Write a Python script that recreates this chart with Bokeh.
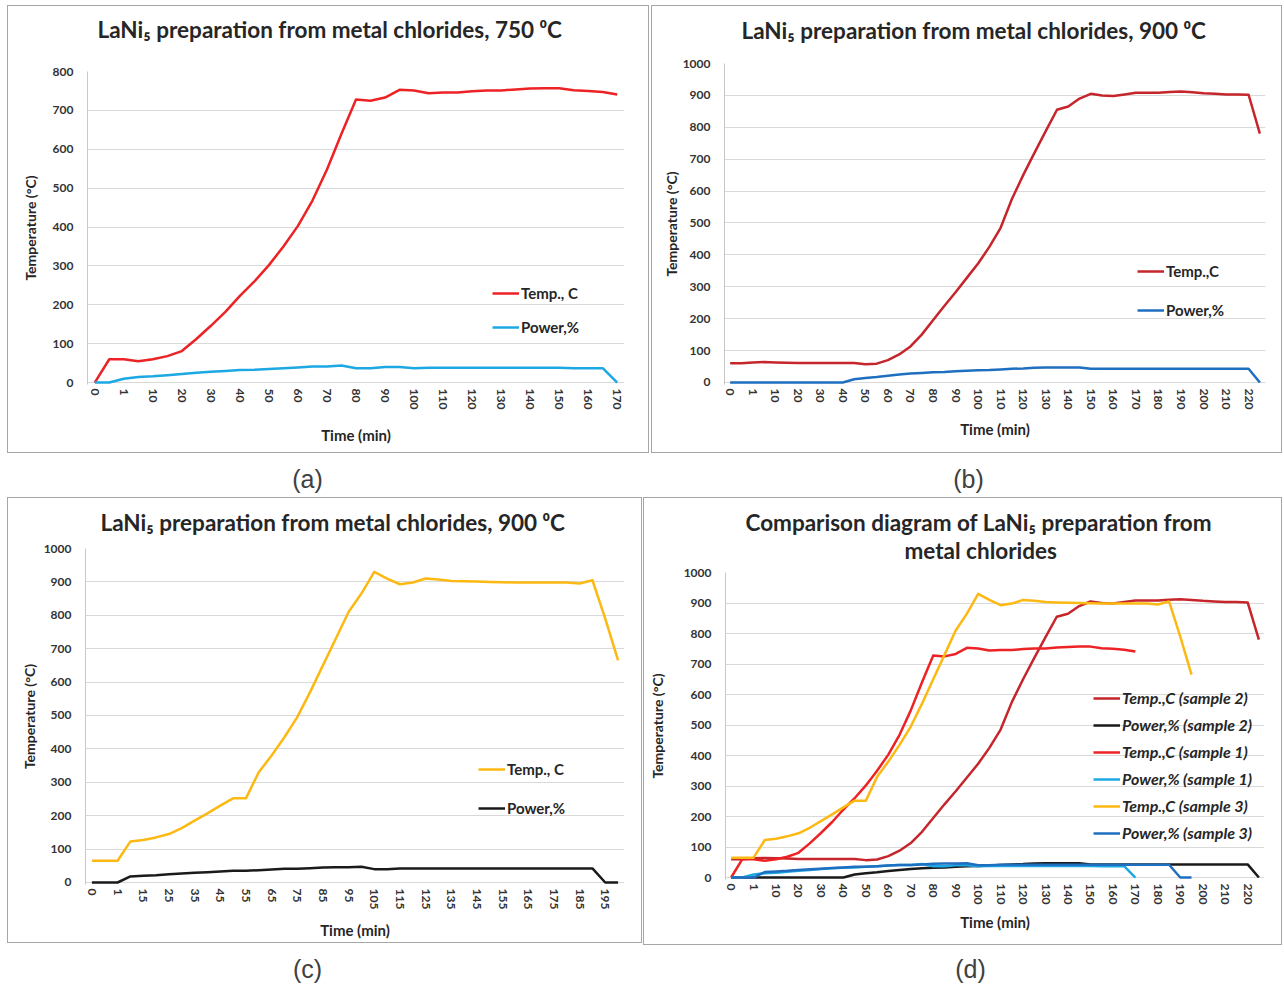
from bokeh.plotting import figure
from bokeh.models import Range1d, FixedTicker, Legend, LegendItem, Spacer
from bokeh.layouts import row, column
from bokeh.core.properties import value
from bokeh.embed import file_html
from bokeh.resources import INLINE

FONT = "Lato"
TXT = "#262626"

# ---------------- data ----------------
times_a = ["0", "0.5", "1", "5", "10", "15", "20", "25", "30", "35", "40", "45", "50", "55", "60",
           "65", "70", "75", "80", "85", "90", "95", "100", "105", "110", "115", "120", "125",
           "130", "135", "140", "145", "150", "155", "160", "165", "170"]
temp_a = [0, 60, 60, 55, 60, 68, 81, 112, 146, 182, 223, 260, 302, 350, 403, 468, 548, 640, 728,
          725, 733, 753, 751, 744, 746, 746, 749, 751, 751, 754, 756, 757, 757, 752, 750, 747, 741]
power_a = [0, 0, 10, 14, 16, 19, 22, 25, 28, 30, 32, 33, 35, 37, 39, 41, 41, 44, 37, 37, 40, 40,
           37, 38, 38, 38, 38, 38, 38, 38, 38, 38, 38, 37, 37, 37, 0]

times_b = ["0", "0.5", "1", "5", "10", "15", "20", "25", "30", "35", "40", "45", "50", "55", "60",
           "65", "70", "75", "80", "85", "90", "95", "100", "105", "110", "115", "120", "125",
           "130", "135", "140", "145", "150", "155", "160", "165", "170", "175", "180", "185",
           "190", "195", "200", "205", "210", "215", "220", "225"]
temp_b = [60, 60, 63, 64, 63, 62, 61, 61, 61, 61, 61, 61, 57, 59, 70, 88, 113, 150, 195, 240,
          283, 328, 373, 425, 485, 575, 650, 720, 788, 855, 865, 890, 905, 900, 898, 903, 908,
          908, 908, 911, 912, 910, 907, 905, 903, 903, 902, 780]
power_b = [0, 0, 0, 0, 0, 0, 0, 0, 0, 0, 0, 10, 14, 17, 21, 25, 28, 30, 32, 33, 35, 37, 38, 39,
           41, 43, 44, 46, 47, 47, 47, 47, 43, 43, 43, 43, 43, 43, 43, 43, 43, 43, 43, 43, 43,
           43, 43, 0]

times_c = ["0", "0.5", "1", "10", "15", "20", "25", "30", "35", "40", "45", "50", "55", "60",
           "65", "70", "75", "80", "85", "90", "95", "100", "105", "110", "115", "120", "125",
           "130", "135", "140", "145", "150", "155", "160", "165", "170", "175", "180", "185",
           "190", "195", "200"]
temp_c = [65, 65, 65, 123, 127, 135, 145, 163, 185, 207, 230, 252, 252, 330, 380, 435, 495, 570,
          650, 730, 810, 865, 930, 910, 893, 898, 910, 907, 903, 902, 901, 900, 899, 898, 898,
          898, 898, 898, 895, 905, 790, 665]
power_c = [0, 0, 0, 18, 20, 22, 25, 27, 29, 31, 33, 35, 35, 37, 39, 41, 41, 43, 45, 46, 46, 47,
           40, 40, 42, 42, 42, 42, 42, 42, 42, 42, 42, 42, 42, 42, 42, 42, 42, 42, 0, 0]

yticks_a = [0, 100, 200, 300, 400, 500, 600, 700, 800]
yticks_b = [0, 100, 200, 300, 400, 500, 600, 700, 800, 900, 1000]

title_a = "LaNi₅ preparation from metal chlorides, 750 ⁰C"
title_b = "LaNi₅ preparation from metal chlorides, 900 ⁰C"
title_c = "LaNi₅ preparation from metal chlorides, 900 ⁰C"
title_d = ["Comparison diagram of  LaNi₅ preparation from", "metal chlorides"]

RED = "#ED2224"
DRED = "#C5252B"
LBLUE = "#1CA8E3"
BLUE = "#1F6FC0"
YEL = "#FDB913"
BLK = "#1a1a1a"
BOXCOL = "#a6a6a6"


def text_fig(w, h, xs, ys, texts, font, size, style, color, align, fl=0, fr=0):
    # frame spans canvas x in [fl, w - fr]; data x == canvas x, data y == canvas y
    p = figure(width=w, height=h, output_backend="svg", toolbar_location=None,
               x_range=Range1d(fl, w - fr), y_range=Range1d(h, 0),
               x_axis_location=None, y_axis_location=None,
               min_border_left=fl, min_border_right=fr, min_border_top=0, min_border_bottom=0,
               background_fill_color="white", border_fill_color="white")
    p.outline_line_color = None
    p.grid.visible = False
    p.text(x=xs, y=ys, text=texts, text_align=align, text_baseline="middle",
           text_font=value(font), text_font_size=size, text_font_style=style,
           text_color=color)
    return p


def plot_fig(w, h, fl, fr, ft, fb, y0, y1, yt, cats, series, leg, ylab_sd, xlab_sd,
             leg_font_style="bold", leg_spacing=16, leg_size="15px"):
    p = figure(width=w, height=h, output_backend="svg", toolbar_location=None,
               x_range=Range1d(-0.5, len(cats) - 0.5), y_range=Range1d(y0, y1),
               min_border_left=fl, min_border_right=fr, min_border_top=ft,
               min_border_bottom=fb, background_fill_color="white",
               border_fill_color="white")
    p.outline_line_color = None
    p.xgrid.visible = False
    p.ygrid.grid_line_color = "#d9d9d9"
    p.ygrid.grid_line_width = 1

    ya = p.yaxis[0]
    ya.ticker = FixedTicker(ticks=yt)
    p.ygrid.ticker = FixedTicker(ticks=yt)
    ya.axis_label = "Temperature (°C)"
    ya.axis_label_text_font = FONT
    ya.axis_label_text_font_style = "bold"
    ya.axis_label_text_font_size = "14px"
    ya.axis_label_text_color = TXT
    ya.axis_label_standoff = ylab_sd
    ya.major_label_text_font = FONT
    ya.major_label_text_font_style = "bold"
    ya.major_label_text_font_size = "12px"
    ya.major_label_text_color = "#333333"
    ya.major_tick_line_color = None
    ya.minor_tick_line_color = None
    ya.major_tick_out = 0
    ya.major_tick_in = 0
    ya.major_label_standoff = 14
    ya.axis_line_color = "#c8c8c8"

    xa = p.xaxis[0]
    idx = list(range(0, len(cats), 2))
    xa.ticker = FixedTicker(ticks=idx)
    xa.major_label_overrides = {i: cats[i] for i in idx}
    xa.major_label_orientation = "vertical"
    xa.axis_line_color = None
    xa.major_tick_line_color = None
    xa.minor_tick_line_color = None
    xa.major_tick_out = 0
    xa.major_tick_in = 0
    xa.major_label_standoff = 4
    xa.major_label_text_font = FONT
    xa.major_label_text_font_style = "bold"
    xa.major_label_text_font_size = "12px"
    xa.major_label_text_color = "#333333"
    xa.axis_label = "Time (min)"
    xa.axis_label_text_font = FONT
    xa.axis_label_text_font_style = "bold"
    xa.axis_label_text_font_size = "15px"
    xa.axis_label_text_color = TXT
    xa.axis_label_standoff = xlab_sd

    items = []
    for name, vals, color in series:
        r = p.line(list(range(len(vals))), vals, line_color=color, line_width=2.5,
                   line_join="round")
        items.append(LegendItem(label=name, renderers=[r]))

    lx, ly = leg
    lg = Legend(items=items, location=(lx, ly), glyph_width=27, glyph_height=18,
                label_height=18, label_standoff=2, spacing=leg_spacing, padding=0, margin=0,
                border_line_color=None, background_fill_alpha=0,
                label_text_font=FONT, label_text_font_style=leg_font_style,
                label_text_font_size=leg_size, label_text_color=TXT)
    p.add_layout(lg)
    return p


def gray(w, h):
    return Spacer(width=w, height=h, styles={"background-color": BOXCOL})


def boxed(w, h, title, plot):
    # 1px grey frame made of thin grey spacers round the title + plot
    mid = row(gray(1, h - 2), column(title, plot), gray(1, h - 2))
    return column(gray(w, 1), mid, gray(w, 1))


def cell(pad_l, pad_t, pad_r, w, box, cap):
    kids_v = []
    if pad_t > 0:
        kids_v.append(Spacer(width=w, height=pad_t))
    kids_v += [box, cap]
    inner = column(*kids_v)
    kids = []
    if pad_l > 0:
        kids.append(Spacer(width=pad_l, height=10))
    kids.append(inner)
    if pad_r > 0:
        kids.append(Spacer(width=pad_r, height=10))
    return row(*kids)


def caption(w, h, text, cx, cy):
    return text_fig(w, h, [cx], [cy], [text], "Liberation Sans", "25px", "normal",
                    "#404040", "center")


TSIZE = "22.5px"

# ---------- panel (a) ----------
ta = text_fig(640, 44, [89], [23], [title_a], FONT, TSIZE, "bold", TXT, "left", 79, 24)
pa = plot_fig(640, 402, 79, 24, 21, 68, -5, 800, yticks_a, times_a,
              [("Temp., C", temp_a, RED), ("Power,%", power_a, LBLUE)],
              (405, 48), 11, 14)
cell_a = cell(7, 5, 1, 642, boxed(642, 448, ta, pa), caption(642, 42, "(a)", 300, 25))

# ---------- panel (b) ----------
tb = text_fig(629, 41, [89], [24], [title_b], FONT, TSIZE, "bold", TXT, "left", 72, 16)
pb = plot_fig(629, 405, 72, 16, 16, 68, -6.3, 1000, yticks_b, times_b,
              [("Temp.,C", temp_b, DRED), ("Power,%", power_b, BLUE)],
              (413, 65), 0, 8, leg_spacing=21)
cell_b = cell(1, 5, 2, 631, boxed(631, 448, tb, pb), caption(631, 42, "(b)", 317, 25))

# ---------- panel (c) ----------
tc = text_fig(633, 38, [92], [24], [title_c], FONT, TSIZE, "bold", TXT, "left", 77, 17)
pc = plot_fig(633, 406, 77, 17, 12, 58, -6, 1000, yticks_b, times_c,
              [("Temp., C", temp_c, YEL), ("Power,%", power_c, BLK)],
              (393, 67), 3, 9, leg_spacing=21)
cell_c = cell(7, 2, 1, 635, boxed(635, 446, tc, pc), caption(635, 41, "(c)", 300, 25))

# ---------- panel (d) ----------
td = text_fig(637, 66, [101, 260], [24, 52], title_d, FONT, TSIZE, "bold", TXT, "left", 81, 17)
pd_ = plot_fig(637, 380, 81, 17, 8, 65, -6.5, 1000, yticks_b, times_b,
               [("Temp.,C (sample 2)", temp_b, DRED), ("Power,% (sample 2)", power_b, BLK),
                ("Temp.,C (sample 1)", temp_a, RED), ("Power,% (sample 1)", power_a, LBLUE),
                ("Temp.,C (sample 3)", temp_c, YEL), ("Power,% (sample 3)", power_c, BLUE)],
               (368, 37), 15, 6,
               leg_font_style="bold italic", leg_spacing=8, leg_size="16px")
cell_d = cell(0, 2, 2, 639, boxed(639, 448, td, pd_), caption(639, 39, "(d)", 327, 23))

layout = column(row(cell_a, cell_b), row(cell_c, cell_d))
open("out.html", "w").write(file_html(layout, INLINE))
